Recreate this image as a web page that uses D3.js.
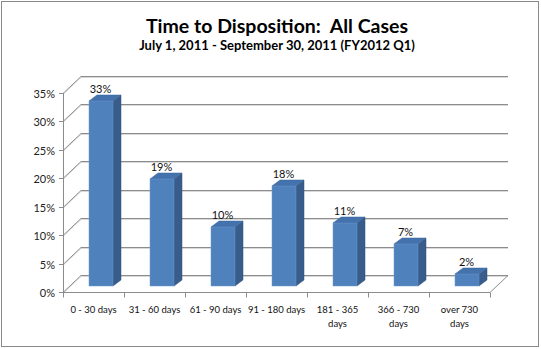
<!DOCTYPE html>
<html><head><meta charset="utf-8">
<script src="https://cdn.jsdelivr.net/npm/d3@7"></script>
<style>body{margin:0;background:#fff}svg{display:block;font-family:Lato,"Open Sans",sans-serif}text{white-space:pre}</style>
</head><body>
<svg id="c" width="541" height="349"></svg>
<script>
const categories = [["0 - 30 days"],["31 - 60 days"],["61 - 90 days"],["91 - 180 days"],["181 - 365","days"],["366 - 730","days"],["over 730","days"]];
const values = [0.326, 0.189, 0.103, 0.176, 0.111, 0.074, 0.021];
const valueLabels = ["33%","19%","10%","18%","11%","7%","2%"];
const yTicks = [0,0.05,0.10,0.15,0.20,0.25,0.30,0.35];
const yTickLabels = ["0%","5%","10%","15%","20%","25%","30%","35%"];
const title = "Time to Disposition:  All Cases";
const subtitle = "July 1, 2011 - September 30, 2011 (FY2012 Q1)";

const svg = d3.select("#c");
svg.append("rect").attr("x",1.5).attr("y",1.5).attr("width",537).attr("height",345)
  .attr("fill","#fff").attr("stroke","#8a8a8a");

svg.append("text").attr("x",277).attr("y",33).attr("text-anchor","middle")
  .attr("font-size",19.5).attr("font-weight","bold").attr("fill","#000").text(title);
svg.append("text").attr("x",277).attr("y",50).attr("text-anchor","middle")
  .attr("font-size",13).attr("font-weight","bold").attr("fill","#000").text(subtitle);

const x = d3.scaleBand().domain(d3.range(categories.length)).range([63,490]);
const y = d3.scaleLinear().domain([0,0.35]).range([292,93]);
const DX = 18, DY = -17;   // wall depth
const bx = 7, by = -6;     // bar plane offset
const bdx = 8, bdy = -6;   // bar depth
const bw = 24;

const grid = svg.append("g");
yTicks.forEach(t => {
  const yy = Math.round(y(t)) + 0.5;
  grid.append("path").attr("d",`M63,${yy+1}L${63+DX},${yy+DY+1}L508,${yy+DY+1}`)
    .attr("fill","none").attr("stroke","#d9d9d9");
  grid.append("path").attr("d",`M63,${yy}L${63+DX},${yy+DY}L508,${yy+DY}`)
    .attr("fill","none").attr("stroke","#8c8c8c");
});
// floor
const y0 = Math.round(y(0)) + 0.5;
grid.append("path").attr("d",`M63,${y0}L490,${y0}L508,${y0+DY}`)
  .attr("fill","none").attr("stroke","#8c8c8c");

// axes
grid.append("line").attr("x1",63.5).attr("x2",63.5).attr("y1",y(0.35)).attr("y2",y(0)+1).attr("stroke","#8c8c8c");
yTicks.forEach((t,i) => {
  const yy = Math.round(y(t)) + 0.5;
  grid.append("line").attr("x1",59).attr("x2",63).attr("y1",yy).attr("y2",yy).attr("stroke","#8c8c8c");
  svg.append("text").attr("x",55).attr("y",yy+4).attr("text-anchor","end")
    .attr("font-size",11).attr("fill","#222").text(yTickLabels[i]);
});
const ticksX = x.domain().map(d => x(d)).concat([490]);
ticksX.forEach(tx => {
  const xx = Math.round(tx) + 0.5;
  grid.append("line").attr("x1",xx).attr("x2",xx).attr("y1",y0).attr("y2",y0+5).attr("stroke","#8c8c8c");
});

// bars
const bars = svg.append("g");
values.forEach((v,i) => {
  const cx = x(i) + x.bandwidth()/2 + bx;
  const x0 = Math.round(cx - bw/2), x1 = x0 + bw;
  const yb = Math.round(y(0) + by), yt = Math.round(y(v) + by);
  bars.append("path").attr("d",`M${x1},${yb}L${x1+bdx},${yb+bdy}L${x1+bdx},${yt+bdy}L${x1},${yt}Z`)
    .attr("fill","#385d8a").attr("stroke","#2f4f78").attr("stroke-width",0.5);
  bars.append("path").attr("d",`M${x0},${yt}L${x0+bdx},${yt+bdy}L${x1+bdx},${yt+bdy}L${x1},${yt}Z`)
    .attr("fill","#4372ad").attr("stroke","#3a659b").attr("stroke-width",0.5);
  bars.append("rect").attr("x",x0).attr("y",yt).attr("width",bw).attr("height",yb-yt)
    .attr("fill","#4f81bd").attr("stroke","#6f9ad0").attr("stroke-width",0.5);
  svg.append("text").attr("x",cx).attr("y",yt+bdy-2).attr("text-anchor","middle")
    .attr("font-size",11).attr("fill","#111").text(valueLabels[i]);
});

// category labels
categories.forEach((lines,i) => {
  const cx = x(i) + x.bandwidth()/2;
  lines.forEach((s,j) => {
    svg.append("text").attr("x",cx).attr("y",313+j*14).attr("text-anchor","middle")
      .attr("font-size",9.5).attr("fill","#111").text(s);
  });
});
</script>
</body></html>
